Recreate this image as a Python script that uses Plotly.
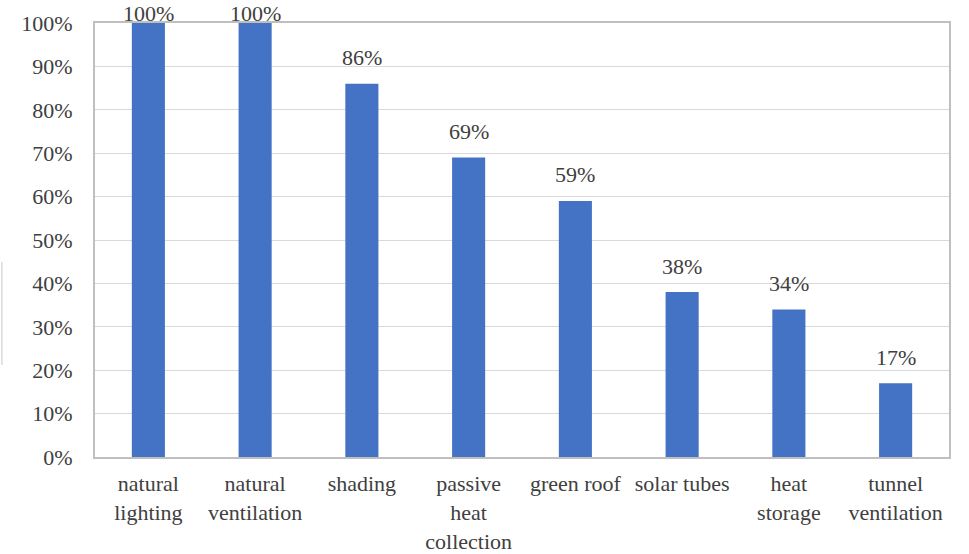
import plotly.graph_objects as go

# Adoption rate of passive design strategies
categories = [
    "natural<br>lighting",
    "natural<br>ventilation",
    "shading",
    "passive<br>heat<br>collection",
    "green roof",
    "solar tubes",
    "heat<br>storage",
    "tunnel<br>ventilation",
]
values = [100, 100, 86, 69, 59, 38, 34, 17]
tick_vals = list(range(0, 101, 10))
tick_text = [f"{v}%" for v in tick_vals]

FONT = "Times New Roman, Liberation Serif, serif"
FONT_SIZE = 22
BAR_COLOR = "#4472C4"
TEXT_COLOR = "#404040"

fig = go.Figure()
fig.add_trace(
    go.Bar(
        x=categories,
        y=values,
        marker=dict(color=BAR_COLOR, line=dict(width=0)),
        width=0.31,
        hoverinfo="skip",
    )
)

# value labels above each bar; labels of full bars sit just above the frame
for cat, v in zip(categories, values):
    clamped = v + 6 > 100
    fig.add_annotation(
        x=cat,
        y=100 if clamped else v + 6,
        yshift=10 if clamped else 0,
        text=f"{v}%",
        showarrow=False,
        yanchor="middle",
        font=dict(family=FONT, size=FONT_SIZE, color=TEXT_COLOR),
    )

# thin mark at the far left edge
fig.add_shape(
    type="line",
    xref="paper", yref="paper",
    x0=-0.109, x1=-0.109, y0=0.212, y1=0.449,
    line=dict(color="#c8c8c8", width=1),
)

fig.update_layout(
    width=969,
    height=554,
    margin=dict(l=95, r=20, t=23, b=97),
    paper_bgcolor="white",
    plot_bgcolor="white",
    showlegend=False,
    font=dict(family=FONT, size=FONT_SIZE, color=TEXT_COLOR),
    xaxis=dict(
        automargin=False,
        showgrid=False,
        showline=True,
        linecolor="#bfbfbf",
        linewidth=2,
        mirror=True,
        ticks="outside",
        ticklen=6,
        tickcolor="rgba(0,0,0,0)",
        tickfont=dict(family=FONT, size=FONT_SIZE, color=TEXT_COLOR),
        tickangle=0,
    ),
    yaxis=dict(
        automargin=False,
        range=[0, 100],
        tickvals=tick_vals,
        ticktext=tick_text,
        showgrid=True,
        gridcolor="#d9d9d9",
        gridwidth=1,
        showline=True,
        linecolor="#bfbfbf",
        linewidth=2,
        mirror=True,
        ticks="outside",
        ticklen=16,
        tickcolor="rgba(0,0,0,0)",
        tickfont=dict(family=FONT, size=FONT_SIZE, color=TEXT_COLOR),
        zeroline=False,
        fixedrange=True,
    ),
)

fig.write_html("out.html")
